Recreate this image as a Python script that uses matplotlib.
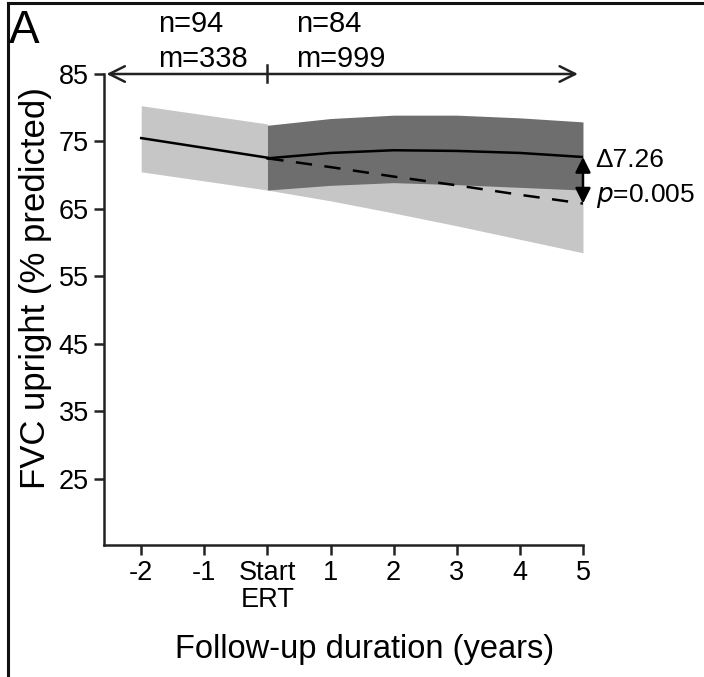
import matplotlib
matplotlib.use("Agg")
import matplotlib.pyplot as plt
from matplotlib.lines import Line2D
import numpy as np

plt.rcParams['font.family'] = ['Liberation Sans', 'DejaVu Sans']

# pre-ERT natural course
pre_x = [-2, 0]
pre_mean = [75.5, 72.6]
pre_lo = [70.5, 67.8]
pre_hi = [80.3, 77.6]

# on ERT
post_x = [0, 1, 2, 3, 4, 5]
ert_mean = [72.5, 73.3, 73.7, 73.6, 73.3, 72.7]
ert_lo = [67.8, 68.5, 68.9, 68.6, 68.2, 67.8]
ert_hi = [77.4, 78.4, 78.9, 78.9, 78.5, 77.9]

# projected course without ERT
proj_mean = [72.5, 71.2, 69.8, 68.5, 67.1, 65.8]
proj_lo = [67.8, 66.2, 64.4, 62.5, 60.5, 58.5]
proj_hi = [77.2, 76.2, 75.2, 74.5, 73.7, 73.1]

xticks = [-2, -1, 0, 1, 2, 3, 4, 5]
xticklabels = ['-2', '-1', 'Start\nERT', '1', '2', '3', '4', '5']
yticks = [25, 35, 45, 55, 65, 75, 85]

light = '#c6c6c6'
dark = '#6e6e6e'

fig = plt.figure(figsize=(7.04, 6.77), dpi=100)
ax = fig.add_axes([0.1477, 0.195, 0.6804, 0.6957])

ax.fill_between(pre_x, pre_lo, pre_hi, color=light, lw=0)
ax.fill_between(post_x, proj_lo, proj_hi, color=light, lw=0)
ax.fill_between(post_x, ert_lo, ert_hi, color=dark, lw=0)
ax.plot(pre_x, pre_mean, color='black', lw=1.8)
ax.plot(post_x, ert_mean, color='black', lw=1.8)
ax.plot(post_x, proj_mean, color='black', lw=1.8, dashes=(6.5, 5))

ax.set_xlim(-2.59, 5)
ax.set_ylim(15.2, 85)
ax.set_xticks(xticks)
ax.set_xticklabels(xticklabels, linespacing=1.05)
ax.set_yticks(yticks)
ax.tick_params(labelsize=19.5, width=1.8, length=7, color='#222222', pad=4)
for s in ['top', 'right']:
    ax.spines[s].set_visible(False)
for s in ['left', 'bottom']:
    ax.spines[s].set_linewidth(1.8)
    ax.spines[s].set_color('#222222')

ax.set_xlabel('Follow-up duration (years)', fontsize=23.5)
ax.set_ylabel('FVC upright (% predicted)', fontsize=25)
ax.xaxis.set_label_coords(0.545, -0.19)
ax.yaxis.set_label_coords(-0.108, 0.545)

# follow-up arrow along the top
ax.annotate('', xy=(-2.55, 85), xytext=(4.92, 85),
            arrowprops=dict(arrowstyle='<->', lw=1.8, color='#222222',
                            mutation_scale=28, shrinkA=0, shrinkB=0),
            annotation_clip=False)
ax.plot([0, 0], [83.8, 86.3], color='#222222', lw=1.8, clip_on=False)
ax.text(-1.73, 91.2, 'n=94', fontsize=21, clip_on=False)
ax.text(-1.73, 86.0, 'm=338', fontsize=21, clip_on=False)
ax.text(0.45, 91.2, 'n=84', fontsize=21, clip_on=False)
ax.text(0.45, 86.0, 'm=999', fontsize=21, clip_on=False)

# difference at 5 years
ax.annotate('', xy=(5, ert_mean[-1]), xytext=(5, proj_mean[-1]),
            arrowprops=dict(arrowstyle='<|-|>', lw=1.8, color='black',
                            mutation_scale=23, shrinkA=0, shrinkB=0),
            annotation_clip=False)
ax.text(5.2, 72.2, '\u03947.26', fontsize=19, va='center')
ax.text(5.2, 66.9, '$\\it{p}$=0.005', fontsize=19, va='center')

fig.text(0.013, 0.987, 'A', fontsize=33, va='top')

# panel frame
fig.add_artist(Line2D([0.0115, 0.0115], [0, 0.996], color='#111111', lw=2.2))
fig.add_artist(Line2D([0.0115, 1.0], [0.995, 0.995], color='#111111', lw=2.2))

fig.savefig('out.png', dpi=100)
